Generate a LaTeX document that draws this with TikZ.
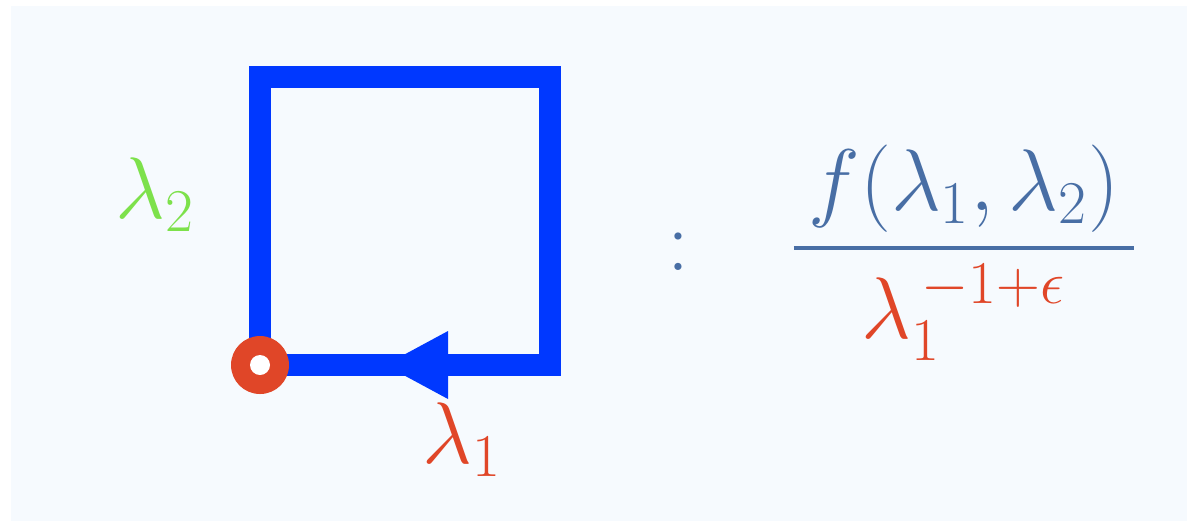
\documentclass[tikz,border=0pt]{standalone}
\usepackage{amsmath,amssymb}
\usepackage{tikz}
\usetikzlibrary{arrows.meta,calc,positioning}
\definecolor{loopblue}{RGB}{0,56,255}
\definecolor{lamred}{RGB}{224,70,40}
\definecolor{lamgreen}{RGB}{125,225,75}
\definecolor{fracblue}{RGB}{72,110,165}
\definecolor{bgblue}{RGB}{246,250,254}
\tikzset{lbl/.style={inner sep=0pt,font=\fontsize{23}{28}\selectfont},
  loopline/.style={draw=loopblue,line width=6.3pt,line join=miter},
  basept/.style={circle,fill=lamred,minimum size=0.58cm,inner sep=0pt}}
\begin{document}
\begin{tikzpicture}
\useasboundingbox (0,0) rectangle (11.87,5.21);
\fill[bgblue] (0.11,0) rectangle (11.87,5.15);
\coordinate (o) at (2.60,1.56);
\coordinate (tr) at (5.50,4.44);
\draw[loopline] (o) |- (tr) |- (o);
\fill[loopblue] ($(o)+(1.25,0)$) -- ($(o)+(1.88,0.34)$) -- ($(o)+(1.88,-0.34)$) -- cycle;
\node[basept] (base) at (o) {};
\fill[white] (base.center) circle (0.10);
\node[lbl,text=lamgreen] (l2) at (1.55,3.26) {$\lambda_2$};
\node[lbl,text=lamred] (l1) at (4.62,0.81) {$\lambda_1$};
\node[lbl,text=fracblue,anchor=base] (col) at (6.78,2.51) {$:$};
\node[lbl,text=fracblue,anchor=base] (frac) at (9.64,2.51)
  {$\genfrac{}{}{1.3pt}{0}{\mkern3mu f(\lambda_1,\lambda_2)\mkern3mu}{\color{lamred}\lambda_1^{\,-1+\epsilon}}$};
\end{tikzpicture}
\end{document}
